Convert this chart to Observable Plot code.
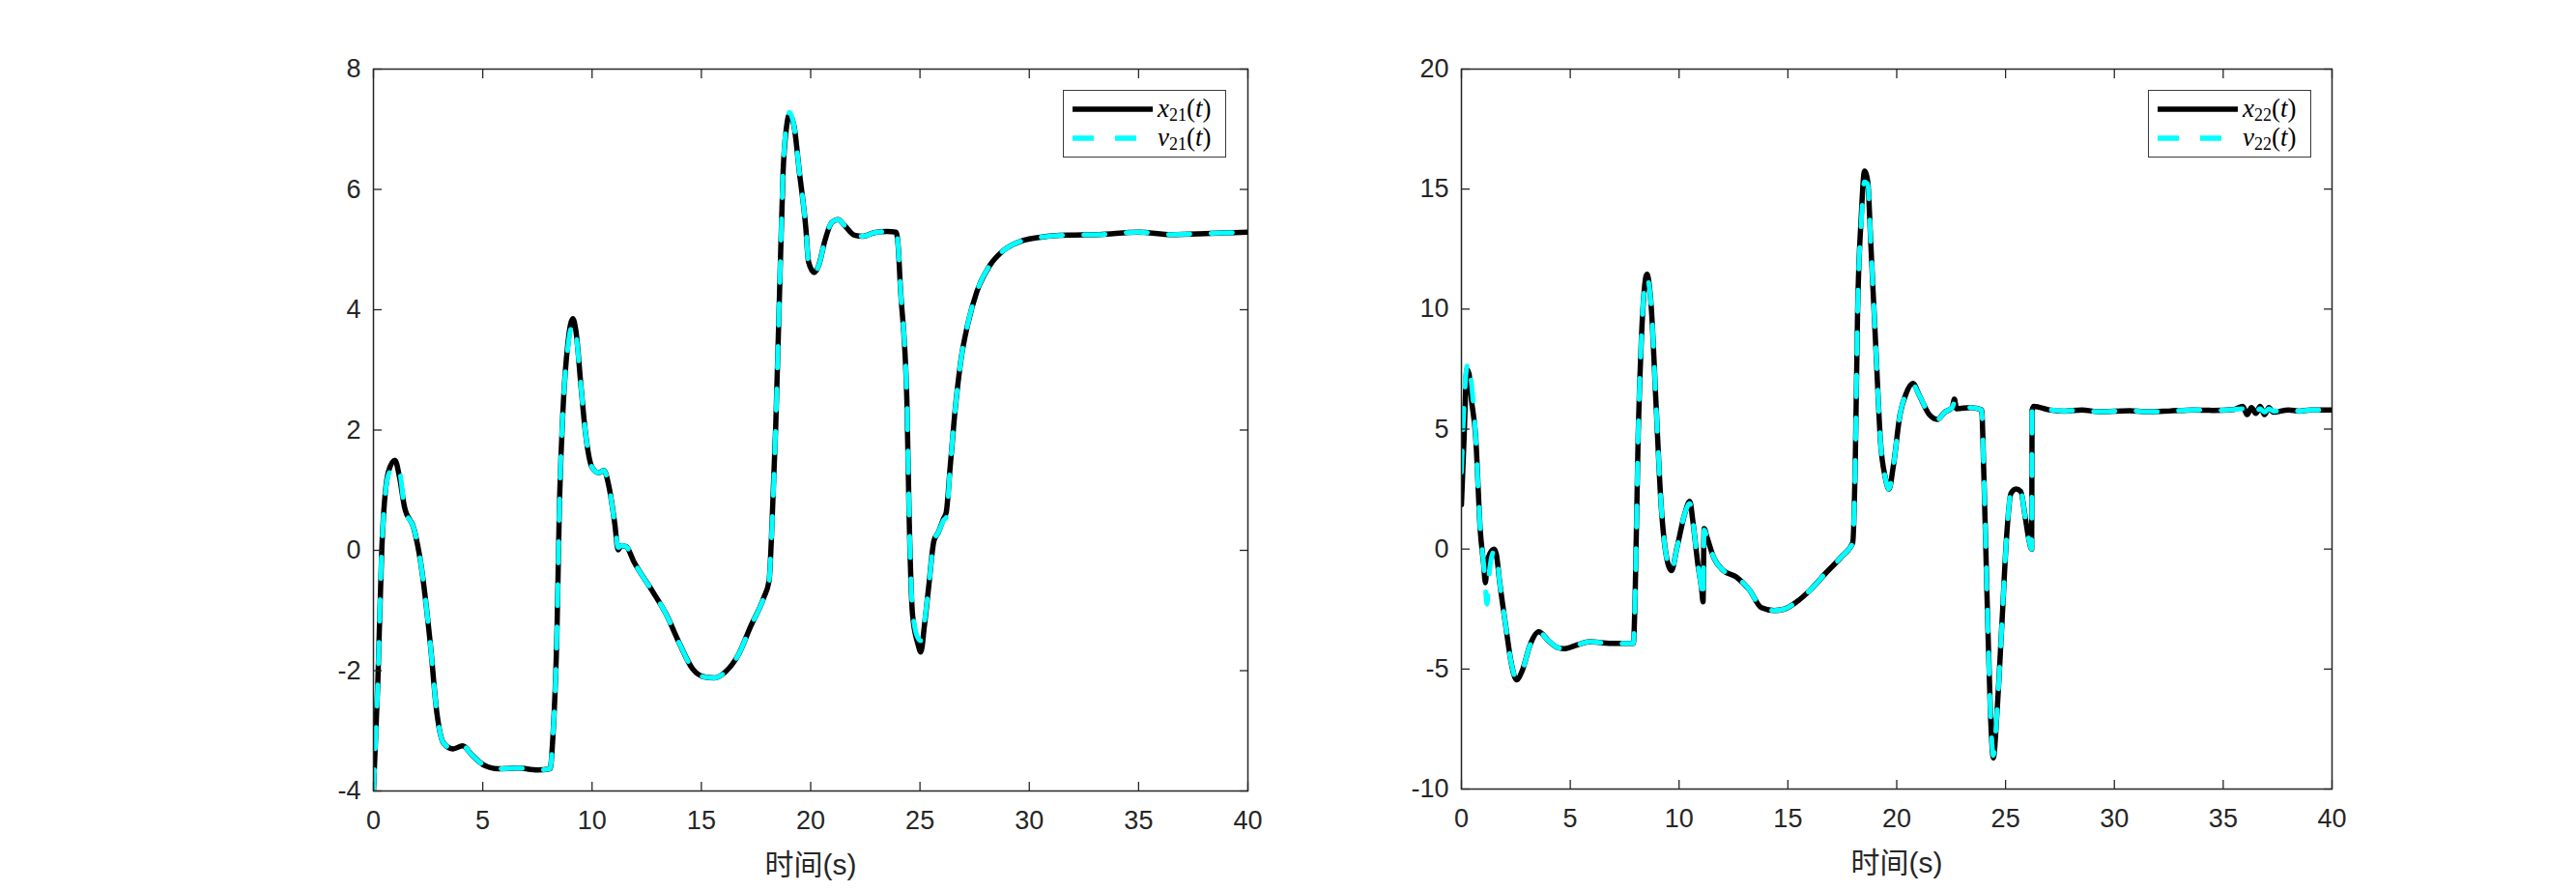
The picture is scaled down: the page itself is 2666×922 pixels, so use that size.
<!DOCTYPE html>
<html>
<head>
<meta charset="utf-8">
<script src="https://cdn.jsdelivr.net/npm/d3@7"></script>
<script src="https://cdn.jsdelivr.net/npm/@observablehq/plot@0.6"></script>
<style>
  html, body { margin: 0; padding: 0; background: #fff; width: 2666px; height: 922px; overflow: hidden; }
  #wrap { position: relative; width: 2666px; height: 922px; }
  .panel { position: absolute; top: 0; }
  .legend { position: absolute; background: #fff; border: 1.2px solid #3a3a3a; box-sizing: border-box; }
  .legend svg { position: absolute; left: 0; top: 0; }
  .lt { position: absolute; font-family: "Liberation Serif", "DejaVu Serif", serif; font-size: 27px; color: #000; line-height: 1; white-space: nowrap; }
  .lt sub { font-style: normal; font-size: 18px; vertical-align: -4px; line-height: 0; }
</style>
</head>
<body>
<div id="wrap"></div>
<script>
// ---------- data: left panel (x21 / v21) ----------
const t21 = [0,0.2,0.38,0.68,0.98,1.2,1.42,1.86,2.16,2.6,2.9,3.2,3.64,4.08,4.5,5.1,5.7,6.6,7.5,8.08,8.2,8.4,8.5,8.67,8.9,9.12,9.26,9.5,9.7,10.0,10.3,10.54,10.75,11.04,11.19,11.34,11.57,11.9,12.8,13.4,14.0,14.6,15.2,15.6,16.1,16.7,17.26,17.85,18.1,18.2,18.4,18.6,18.74,18.9,19.03,19.24,19.48,19.78,19.9,20.16,20.37,20.66,20.96,21.26,21.55,22.0,22.4,22.9,23.5,23.9,24.0,24.1,24.4,24.5,24.66,24.9,25.04,25.2,25.4,25.64,25.84,26.08,26.2,26.38,26.58,26.88,27.18,27.6,28.2,28.8,29.7,30.6,31.76,33.2,35.0,36.5,38.3,40];
const x21 = [-4,-2.2,0,1.3,1.5,1.2,0.72,0.35,-0.2,-1.55,-2.7,-3.2,-3.3,-3.25,-3.4,-3.58,-3.63,-3.62,-3.65,-3.63,-3.15,-1.26,0.63,2.33,3.46,3.85,3.65,2.7,1.95,1.38,1.29,1.33,1.1,0.44,0.01,0.08,0.06,-0.18,-0.7,-1.07,-1.55,-1.97,-2.11,-2.12,-2.02,-1.73,-1.26,-0.79,-0.5,0.16,2.05,4.6,6.3,7.05,7.24,7.05,6.3,5.35,4.8,4.62,4.74,5.16,5.45,5.5,5.4,5.24,5.22,5.28,5.3,5.29,5.07,4.4,2.5,0.63,-1.07,-1.55,-1.69,-1.26,-0.6,0.16,0.3,0.53,0.63,1.38,2.23,3.18,3.75,4.3,4.74,4.98,5.15,5.21,5.24,5.25,5.29,5.25,5.27,5.29];
const v21 = [-4,-2.2,0,1.25,1.4,1.3,0.7,0.35,-0.2,-1.55,-2.7,-3.2,-3.3,-3.25,-3.4,-3.58,-3.63,-3.62,-3.65,-3.63,-3.15,-1.26,0.63,2.33,3.4,3.75,3.6,2.7,1.95,1.38,1.29,1.33,1.1,0.44,0.05,0.08,0.06,-0.18,-0.7,-1.07,-1.55,-1.97,-2.11,-2.12,-2.02,-1.73,-1.26,-0.79,-0.5,0.16,2.05,4.6,6.3,7.1,7.28,7.05,6.3,5.35,4.8,4.62,4.74,5.16,5.45,5.5,5.4,5.24,5.22,5.28,5.3,5.29,5.07,4.4,2.5,0.63,-1.0,-1.45,-1.5,-1.2,-0.6,0.16,0.3,0.5,0.55,1.38,2.23,3.18,3.75,4.3,4.74,4.98,5.15,5.21,5.24,5.25,5.29,5.25,5.27,5.29];

// ---------- data: right panel (x22 / v22) ----------
const t22 = [0,0.12,0.25,0.35,0.45,0.65,0.87,1.02,1.1,1.17,1.3,1.5,1.6,1.76,2.05,2.27,2.53,2.8,3.15,3.55,3.98,4.4,4.7,5.3,5.9,6.4,7.0,7.9,7.98,8.12,8.27,8.4,8.52,8.72,8.94,9.16,9.38,9.65,9.9,10.27,10.49,10.64,10.86,11.04,11.1,11.15,11.3,11.6,12.04,12.64,13.23,13.78,14.37,14.8,15.4,16.0,16.74,17.48,17.98,18.1,18.2,18.37,18.52,18.67,18.8,19.05,19.26,19.47,19.64,19.85,20.15,20.44,20.74,21.04,21.5,21.87,22.2,22.55,22.65,22.75,23.4,23.9,24.0,24.15,24.3,24.44,24.6,24.83,25.04,25.24,25.48,25.7,25.9,26.07,26.2,26.22,26.3,27.0,27.7,28.5,29.3,30.7,31.5,32.5,33.6,34.5,35.5,35.9,36.1,36.3,36.5,36.7,36.9,37.1,37.3,38.0,38.5,39.0,40];
const x22 = [1.85,4.6,7.49,7.3,6.3,4.74,0.71,-0.62,-1.4,-0.7,-0.2,0.0,-0.2,-1.4,-3.3,-4.65,-5.45,-5.05,-4.0,-3.45,-3.8,-4.1,-4.15,-4.0,-3.86,-3.9,-3.93,-3.93,-2.0,4.74,8.8,10.8,11.45,10.1,6.08,2.05,-0.1,-0.9,0.04,1.5,1.99,1.11,-0.62,-1.7,-2.2,0.85,0.44,-0.37,-0.9,-1.17,-1.7,-2.44,-2.56,-2.51,-2.2,-1.73,-1.0,-0.3,0.27,3.9,9.8,13.86,15.75,15.3,12.9,8.2,4.4,3.0,2.5,3.5,5.6,6.5,6.9,6.4,5.6,5.4,5.7,5.9,6.25,5.85,5.9,5.8,3.2,-2.0,-6.7,-8.7,-6.9,-3.15,0.4,2.3,2.5,2.4,1.35,0.4,0.0,5.8,5.95,5.8,5.75,5.8,5.72,5.77,5.72,5.75,5.8,5.78,5.82,5.95,5.6,5.9,5.65,5.95,5.6,5.9,5.7,5.8,5.75,5.8,5.8];
const v22 = [3.2,6.0,7.6,7.76,7.0,4.74,0.71,-0.62,-1.6,-2.3,-0.8,-0.1,-0.2,-1.4,-3.3,-4.65,-5.4,-5.05,-4.0,-3.45,-3.8,-4.1,-4.15,-4.0,-3.86,-3.9,-3.93,-3.93,-2.0,4.74,8.8,10.8,11.3,10.1,6.08,2.05,-0.1,-0.9,0.04,1.5,1.9,1.11,-0.62,-1.7,-2.1,0.8,0.44,-0.37,-0.9,-1.17,-1.7,-2.44,-2.56,-2.51,-2.2,-1.73,-1.0,-0.3,0.27,3.9,9.8,13.6,15.3,15.2,12.9,8.2,4.4,3.0,2.5,3.5,5.6,6.5,6.85,6.4,5.6,5.4,5.7,5.9,6.1,5.85,5.9,5.8,3.2,-2.0,-6.7,-8.6,-6.9,-3.15,0.4,2.3,2.5,2.4,1.35,0.4,0.0,5.8,5.8,5.8,5.75,5.8,5.72,5.77,5.72,5.75,5.8,5.78,5.82,5.85,5.7,5.85,5.72,5.85,5.7,5.85,5.75,5.8,5.75,5.8,5.8];

// ---------- ticks & labels ----------
const xTicks = [0,5,10,15,20,25,30,35,40];
const yTicks21 = [-4,-2,0,2,4,6,8];
const yTicks22 = [-10,-5,0,5,10,15,20];
const xLabel = "时间(s)";
const legendNames = [["x","21"],["v","21"],["x","22"],["v","22"]];

const axisColor = "#262626";
const fmt = d => String(d);

function panel({t, xs, vs, yDomain, yTicks, mLeft, mRight, mBottom}) {
  return Plot.plot({
    width: 1333, height: 922,
    marginLeft: mLeft, marginRight: mRight, marginTop: 71, marginBottom: mBottom,
    style: {fontFamily: "'Liberation Sans', Arial, 'Noto Sans CJK SC', sans-serif", fontSize: "27px", color: axisColor, background: "white", overflow: "visible"},
    x: {domain: [0, 40]},
    y: {domain: yDomain},
    marks: [
      Plot.line(xs, {x: t, y: xs, stroke: "#000", strokeWidth: 5.5, curve: "monotone-x", strokeLinejoin: "round", clip: true}),
      Plot.line(vs, {x: t, y: vs, stroke: "#00ffff", strokeWidth: 5, strokeDasharray: "22,22", curve: "monotone-x", clip: true}),
      Plot.frame({stroke: axisColor, strokeWidth: 1.5}),
      Plot.axisX({ticks: xTicks, anchor: "bottom", tickSize: -9, fill: "none", stroke: axisColor, strokeWidth: 1.3, label: null}),
      Plot.axisX({ticks: xTicks, anchor: "top", tickSize: -9, fill: "none", stroke: axisColor, strokeWidth: 1.3, label: null}),
      Plot.axisY({ticks: yTicks, anchor: "left", tickSize: -9, fill: "none", stroke: axisColor, strokeWidth: 1.3, label: null}),
      Plot.axisY({ticks: yTicks, anchor: "right", tickSize: -9, fill: "none", stroke: axisColor, strokeWidth: 1.3, label: null}),
      Plot.axisX({ticks: xTicks, anchor: "bottom", tickSize: 0, tickPadding: 20, tickFormat: fmt, fill: axisColor, label: null}),
      Plot.axisX({ticks: xTicks, anchor: "bottom", tickSize: 0, tickFormat: () => "", fill: axisColor, fontSize: 30,
                  label: xLabel, labelAnchor: "center", labelArrow: "none", labelOffset: 86}),
      Plot.axisY({ticks: yTicks, anchor: "left", tickSize: 0, tickPadding: 13, tickFormat: fmt, fill: axisColor, label: null})
    ]
  });
}

const wrap = document.getElementById("wrap");

const p1 = document.createElement("div");
p1.className = "panel"; p1.style.left = "0px";
p1.appendChild(panel({t: t21, xs: x21, vs: v21, yDomain: [-4, 8], yTicks: yTicks21, mLeft: 386, mRight: 42, mBottom: 104}));
wrap.appendChild(p1);

const p2 = document.createElement("div");
p2.className = "panel"; p2.style.left = "1333px";
p2.appendChild(panel({t: t22, xs: x22, vs: v22, yDomain: [-10, 20], yTicks: yTicks22, mLeft: 179, mRight: 253, mBottom: 106}));
wrap.appendChild(p2);

function legend(left, names) {
  const box = document.createElement("div");
  box.className = "legend";
  Object.assign(box.style, {left: left + "px", top: "93px", width: "169px", height: "70px"});
  box.innerHTML = `
    <svg width="169" height="70">
      <line x1="9" x2="92" y1="19" y2="19" stroke="#000" stroke-width="5.5"/>
      <line x1="9" x2="92" y1="49" y2="49" stroke="#00ffff" stroke-width="5.5" stroke-dasharray="22,22"/>
    </svg>
    <div class="lt" style="left:97px; top:5px"><i>${names[0][0]}</i><sub>${names[0][1]}</sub>(<i>t</i>)</div>
    <div class="lt" style="left:97px; top:35px"><i>${names[1][0]}</i><sub>${names[1][1]}</sub>(<i>t</i>)</div>`;
  wrap.appendChild(box);
}
legend(1100, [legendNames[0], legendNames[1]]);
legend(2223, [legendNames[2], legendNames[3]]);
</script>
</body>
</html>
